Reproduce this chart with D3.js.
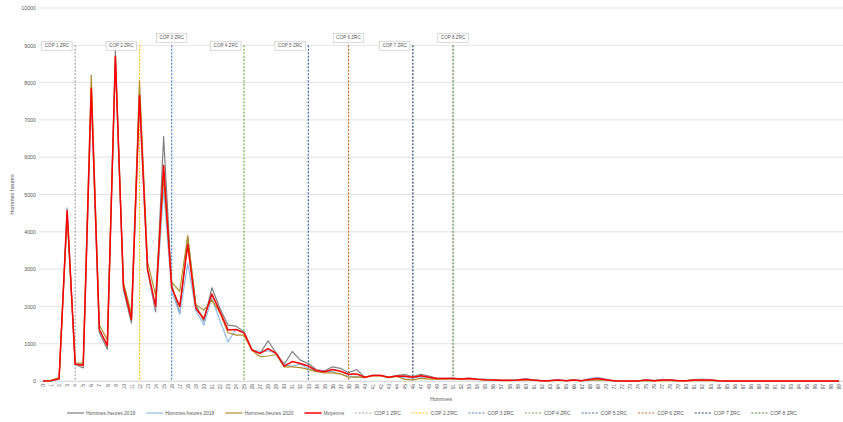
<!DOCTYPE html>
<html>
<head>
<meta charset="utf-8">
<script src="https://cdn.jsdelivr.net/npm/d3@7"></script>
<style>
  html, body { margin: 0; padding: 0; background: #fff; }
  svg { display: block; font-family: "Liberation Sans", Arial, sans-serif; }
</style>
</head>
<body>
<svg id="chart" width="843" height="422"></svg>
<script>
// ---------- DATA ----------
const categories = d3.range(0, 100).map(String);

const series2019 = [0,10,60,4500,450,350,7750,1300,850,8850,
  2450,1550,7750,2950,1850,6550,2600,1800,3850,2050,
  1600,2500,1950,1500,1470,1320,830,740,1080,740,
  450,790,560,470,300,270,380,340,220,310,
  100,150,150,100,150,170,120,180,130,70,
  70,80,55,80,50,40,40,20,20,30,
  50,30,10,10,40,10,30,10,40,70,
  40,5,0,0,0,40,10,40,40,10,
  10,40,45,40,5,0,0,0,0,0,
  0,0,0,0,0,0,0,0,0,0];

const series2018 = [0,5,40,4650,420,450,7700,1400,950,8550,
  2600,1700,7450,2950,1950,5150,2400,1800,3150,1900,
  1500,2220,1630,1050,1380,1300,830,790,810,740,
  430,400,450,330,290,260,250,180,130,110,
  90,150,150,90,130,80,80,110,90,60,
  60,70,50,70,45,50,40,20,20,30,
  60,30,10,10,40,10,30,10,70,100,
  50,5,0,0,0,40,10,40,40,10,
  10,40,45,40,5,0,0,0,0,0,
  0,0,0,0,0,0,0,0,0,0];

const series2020 = [0,15,90,4450,480,480,8200,1500,1100,8600,
  2650,1800,8050,3200,2300,5450,2650,2400,3900,2050,
  1900,2170,1830,1300,1230,1230,820,650,670,710,
  380,380,360,310,250,220,220,190,100,110,
  90,140,140,90,120,45,30,70,50,50,
  50,60,45,60,40,20,20,10,10,15,
  30,20,5,5,20,5,20,5,20,30,
  20,0,0,0,0,10,0,10,10,0,
  0,10,10,10,0,0,0,0,0,0,
  0,0,0,0,0,0,0,0,0,0];

const seriesMoy = [0,10,60,4580,450,420,7850,1380,950,8700,
  2550,1650,7650,3000,2000,5780,2500,2000,3650,1950,
  1670,2330,1860,1370,1380,1290,830,740,870,740,
  400,520,470,400,280,250,310,260,180,190,
  100,150,150,100,135,130,100,140,100,65,
  65,70,55,70,45,35,30,20,20,25,
  45,25,10,10,30,10,25,10,40,65,
  35,5,0,0,0,30,5,30,30,5,
  5,30,30,30,5,0,0,0,0,0,
  0,0,0,0,0,0,0,0,0,0];

const seriesNames = ["Hommes.heures 2019", "Hommes.heures 2018", "Hommes.heures 2020", "Moyenne"];
const seriesColors = ["#7f7f7f", "#8fbbe6", "#b08d2a", "#ff0000"];

const copNames = ["COP 1 ZRC","COP 2 ZRC","COP 3 ZRC","COP 4 ZRC","COP 5 ZRC","COP 6 ZRC","COP 7 ZRC","COP 8 ZRC"];
const copCategories = ["4","12","16","25","33","38","46","51"];
const copHeights = [9000,9000,9000,9000,9000,9000,9000,9000];
const copRaised = [false,false,true,false,false,true,false,true];
const copColors = ["#a5a5a5","#ffc000","#4f7fd0","#70ad47","#3a6aa8","#c8682a","#264478","#548235"];

const yTicks = [0,1000,2000,3000,4000,5000,6000,7000,8000,9000,10000];

// ---------- CHART ----------
const svg = d3.select("#chart");
const plot = { left: 39, right: 843, top: 8, bottom: 381 };

const x = d3.scalePoint().domain(categories).range([plot.left, plot.right]).padding(0.5);
const y = d3.scaleLinear().domain([0, 10000]).range([plot.bottom, plot.top]);

const textColor = "#595959";

// gridlines
svg.append("g").selectAll("line").data(yTicks).join("line")
  .attr("x1", plot.left).attr("x2", plot.right)
  .attr("y1", d => y(d)).attr("y2", d => y(d))
  .attr("stroke", "#dcdcdc").attr("stroke-width", 0.8);

// y axis labels
const yAxis = d3.axisLeft(y).tickValues(yTicks).tickSize(0).tickPadding(0).tickFormat(d3.format("d"));
const gy = svg.append("g").attr("transform", `translate(${plot.left - 3},0)`).call(yAxis);
gy.select(".domain").remove();
gy.selectAll("text").attr("fill", textColor).style("font-size", "5.3px").style("font-family", "Liberation Sans, Arial, sans-serif");

// x axis labels
const xAxis = d3.axisBottom(x).tickSize(0).tickPadding(0);
const gx = svg.append("g").attr("transform", `translate(0,${plot.bottom})`).call(xAxis);
gx.select(".domain").attr("stroke", "#d9d9d9").attr("stroke-width", 0.8);
gx.selectAll("text")
  .attr("fill", textColor)
  .style("font-size", "4.8px")
  .style("font-family", "Liberation Sans, Arial, sans-serif")
  .attr("transform", "rotate(-90)")
  .attr("text-anchor", "end")
  .attr("x", -3).attr("y", 0).attr("dy", "0.35em");

// axis titles
svg.append("text").attr("transform", `translate(14,${(plot.top + plot.bottom) / 2}) rotate(-90)`)
  .attr("text-anchor", "middle").attr("fill", textColor).style("font-size", "5.5px").text("Hommes.heures");
svg.append("text").attr("x", (plot.left + plot.right) / 2).attr("y", 401)
  .attr("text-anchor", "middle").attr("fill", textColor).style("font-size", "5.5px").text("Hommes");

// COP vertical lines
const copG = svg.append("g");
copCategories.forEach((c, i) => {
  copG.append("line")
    .attr("x1", x(c)).attr("x2", x(c))
    .attr("y1", y(copHeights[i])).attr("y2", y(0))
    .attr("stroke", copColors[i]).attr("stroke-width", 1.2)
    .attr("stroke-dasharray", "2,1.5");
});

// data lines
const allSeries = [series2019, series2018, series2020, seriesMoy];
const line = d3.line().x((d, i) => x(categories[i])).y(d => y(d));
allSeries.forEach((s, k) => {
  svg.append("path").datum(s)
    .attr("fill", "none")
    .attr("stroke", seriesColors[k])
    .attr("stroke-width", k === 3 ? 1.5 : 1.2)
    .attr("stroke-linejoin", "round")
    .attr("d", line);
});

// COP labels
copCategories.forEach((c, i) => {
  const g = copG.append("g");
  const t = g.append("text").attr("fill", textColor).style("font-size", "4.6px").text(copNames[i]);
  const tw = t.node().getComputedTextLength();
  const bw = tw + 6, bh = 9;
  let bx, by;
  if (copRaised[i]) {
    bx = x(c) - bw / 2;
    by = y(copHeights[i]) - 3 - bh;
  } else {
    bx = x(c) - 3 - bw;
    by = y(copHeights[i]) - bh / 2 + 0.5;
  }
  g.insert("rect", "text").attr("x", bx).attr("y", by).attr("width", bw).attr("height", bh)
    .attr("fill", "#fff").attr("stroke", "#c8c8c8").attr("stroke-width", 0.7);
  t.attr("x", bx + bw / 2).attr("y", by + bh / 2).attr("dy", "0.35em").attr("text-anchor", "middle");
});

// legend
const legendItems = seriesNames.map((n, k) => ({ name: n, color: seriesColors[k], dashed: false, w: k === 3 ? 1.5 : 1.2 }))
  .concat(copNames.map((n, k) => ({ name: n, color: copColors[k], dashed: true, w: 1.1 })));
const lg = svg.append("g");
let lx = 67;
const ly = 413;
legendItems.forEach(it => {
  lg.append("line").attr("x1", lx).attr("x2", lx + 17).attr("y1", ly).attr("y2", ly)
    .attr("stroke", it.color).attr("stroke-width", it.w)
    .attr("stroke-dasharray", it.dashed ? "2,1.5" : null);
  const t = lg.append("text").attr("x", lx + 19).attr("y", ly).attr("dy", "0.35em")
    .attr("fill", textColor).style("font-size", "5px").text(it.name);
  lx += 19 + t.node().getComputedTextLength() + 11;
});
</script>
</body>
</html>
